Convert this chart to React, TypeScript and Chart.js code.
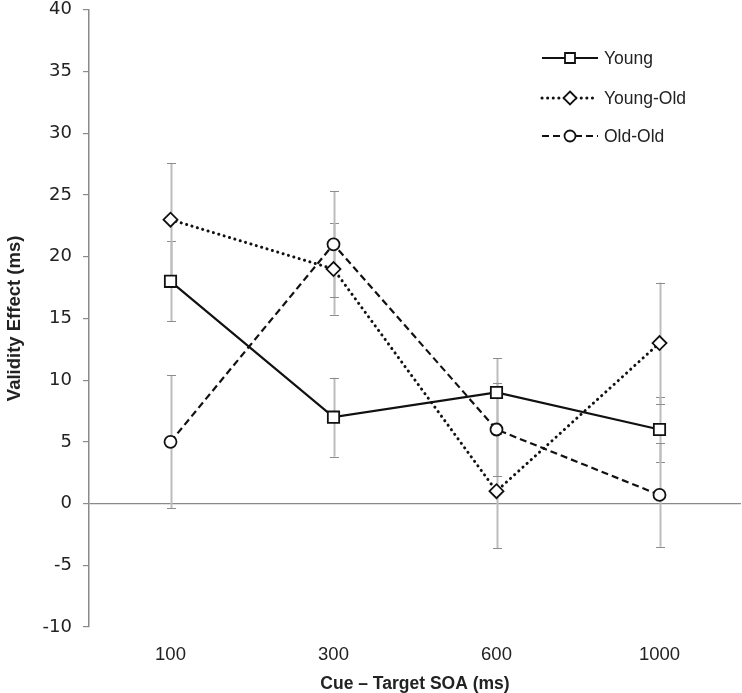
import React, { useEffect, useRef } from "react";
import { Chart, registerables } from "chart.js";

Chart.register(...registerables);

const categories = ["100", "300", "600", "1000"];
const seriesNames = ["Young", "Young-Old", "Old-Old"];
const young = [18, 7, 9, 6];
const youngErr = [3.25, 3.2, 2.8, 2.6];
const youngOld = [23, 19, 1, 13];
const youngOldErr = [4.6, 3.7, 4.6, 4.9];
const oldOld = [5, 21, 6, 0.7];
const oldOldErr = [5.4, 4.3, 3.8, 4.2];
const yTitle = "Validity Effect (ms)";
const xTitle = "Cue \u2013 Target SOA (ms)";

const errors = [youngErr, youngOldErr, oldOldErr];

const styles = [
  { dash: [] as number[], cap: "butt" as CanvasLineCap, width: 2.2, point: "rect", radius: 8 },
  { dash: [0.1, 5.5], cap: "round" as CanvasLineCap, width: 3, point: "rectRot", radius: 7 },
  { dash: [7, 4], cap: "butt" as CanvasLineCap, width: 2.2, point: "circle", radius: 6 },
];

const PLOT_RIGHT = 741;

const stretchPlugin = {
  id: "stretchRight",
  afterLayout(chart: any) {
    const x = chart.scales.x;
    if (!x) return;
    chart.chartArea.right = PLOT_RIGHT;
    chart.chartArea.width = PLOT_RIGHT - chart.chartArea.left;
    x.right = PLOT_RIGHT;
    x.width = PLOT_RIGHT - x.left;
    x.configure();
    const y = chart.scales.y;
    if (y) {
      y._gridLineItems = null;
    }
  },
};

const errorBarPlugin = {
  id: "errorBars",
  beforeDatasetsDraw(chart: any) {
    const ctx = chart.ctx;
    const yScale = chart.scales.y;
    ctx.save();
    chart.data.datasets.forEach((ds: any, di: number) => {
      const meta = chart.getDatasetMeta(di);
      meta.data.forEach((pt: any, i: number) => {
        const v = ds.data[i];
        const e = errors[di][i];
        const x = Math.round(pt.x) + 0.5;
        const yTop = yScale.getPixelForValue(v + e);
        const yBot = yScale.getPixelForValue(v - e);
        ctx.strokeStyle = "#bcbcbc";
        ctx.lineWidth = 2;
        ctx.setLineDash([]);
        ctx.beginPath();
        ctx.moveTo(x, yTop);
        ctx.lineTo(x, yBot);
        ctx.stroke();
        ctx.strokeStyle = "#8c8c8c";
        ctx.lineWidth = 1;
        ctx.beginPath();
        ctx.moveTo(x - 4.5, Math.round(yTop) + 0.5);
        ctx.lineTo(x + 4.5, Math.round(yTop) + 0.5);
        ctx.moveTo(x - 4.5, Math.round(yBot) + 0.5);
        ctx.lineTo(x + 4.5, Math.round(yBot) + 0.5);
        ctx.stroke();
      });
    });
    ctx.restore();
  },
};

const decorPlugin = {
  id: "decor",
  afterDraw(chart: any) {
    const ctx = chart.ctx;
    const area = chart.chartArea;
    ctx.save();
    // axis titles
    ctx.fillStyle = "#222";
    ctx.font = "bold 18.5px 'Liberation Sans', Arial, sans-serif";
    ctx.textAlign = "center";
    ctx.textBaseline = "middle";
    ctx.save();
    ctx.translate(15, (area.top + area.bottom) / 2);
    ctx.rotate(-Math.PI / 2);
    ctx.fillText(yTitle, 0, 0);
    ctx.restore();
    ctx.font = "bold 17.5px 'Liberation Sans', Arial, sans-serif";
    ctx.fillText(xTitle, (area.left + area.right) / 2, 684);

    // legend
    const rows = [58, 98, 136];
    const x0 = 542;
    const x1 = 598;
    const mx = 570;
    rows.forEach((ry, i) => {
      const s = styles[i];
      ctx.strokeStyle = "#111";
      ctx.lineWidth = s.width;
      ctx.lineCap = s.cap;
      ctx.setLineDash(s.dash);
      ctx.beginPath();
      ctx.moveTo(x0, ry);
      ctx.lineTo(x1, ry);
      ctx.stroke();
      ctx.setLineDash([]);
      ctx.lineCap = "butt";
      ctx.lineWidth = 1.8;
      ctx.fillStyle = "#fff";
      ctx.beginPath();
      if (s.point === "rect") {
        ctx.rect(mx - 5, ry - 5, 10, 10);
      } else if (s.point === "rectRot") {
        ctx.moveTo(mx, ry - 6.5);
        ctx.lineTo(mx + 6.5, ry);
        ctx.lineTo(mx, ry + 6.5);
        ctx.lineTo(mx - 6.5, ry);
        ctx.closePath();
      } else {
        ctx.arc(mx, ry, 5.5, 0, Math.PI * 2);
      }
      ctx.fill();
      ctx.stroke();
      ctx.fillStyle = "#222";
      ctx.font = "17.5px 'Liberation Sans', Arial, sans-serif";
      ctx.textAlign = "left";
      ctx.textBaseline = "middle";
      ctx.fillText(seriesNames[i], 604, ry + 1);
    });
    ctx.restore();
  },
};

export default function App() {
  const ref = useRef<HTMLCanvasElement | null>(null);
  useEffect(() => {
    if (!ref.current) return;
    const values = [young, youngOld, oldOld];
    const chart = new Chart(ref.current, {
      type: "line",
      data: {
        labels: categories,
        datasets: values.map((d, i) => ({
          label: seriesNames[i],
          data: d,
          borderColor: "#111",
          borderWidth: styles[i].width,
          borderDash: styles[i].dash,
          borderCapStyle: styles[i].cap,
          pointStyle: styles[i].point as any,
          pointRadius: styles[i].radius,
          pointBorderWidth: 1.8,
          pointBackgroundColor: "#fff",
          pointBorderColor: "#111",
          tension: 0,
          fill: false,
        })),
      },
      options: {
        animation: false,
        responsive: false,
        maintainAspectRatio: false,
        layout: { padding: { top: 8, right: 1, left: 0, bottom: 0 } },
        plugins: {
          legend: { display: false },
          tooltip: { enabled: false },
        },
        scales: {
          x: {
            type: "category",
            offset: true,
            grid: { display: false, drawTicks: false },
            border: { display: false },
            ticks: {
              color: "#222",
              padding: 17,
              maxRotation: 0,
              font: { family: "'Liberation Sans', Arial, sans-serif", size: 18.5 },
            },
            afterFit(scale: any) {
              scale.height = 66;
              scale.paddingLeft = 0;
              scale.paddingRight = 0;
            },
          },
          y: {
            min: -10,
            max: 40,
            ticks: {
              stepSize: 5,
              color: "#222",
              padding: 11,
              font: { family: "'DejaVu Sans', Verdana, sans-serif", size: 18 },
            },
            grid: {
              drawOnChartArea: true,
              color: (c: any) => (c.tick && c.tick.value === 0 ? "#8a8a8a" : "rgba(0,0,0,0)"),
              lineWidth: 1.2,
              tickColor: "#8a8a8a",
              tickLength: 6,
            },
            border: { display: true, color: "#8a8a8a", width: 1.5 },
            afterFit(scale: any) {
              scale.width = 89;
              scale.paddingTop = 0;
              scale.paddingBottom = 0;
            },
          },
        },
      },
      plugins: [stretchPlugin, errorBarPlugin, decorPlugin],
    });
    return () => chart.destroy();
  }, []);
  return (
    <div style={{ position: "absolute", left: 0, top: 0, width: 742, height: 693, background: "#fff" }}>
      <canvas ref={ref} width={742} height={693} style={{ display: "block", width: 742, height: 693 }} />
    </div>
  );
}
